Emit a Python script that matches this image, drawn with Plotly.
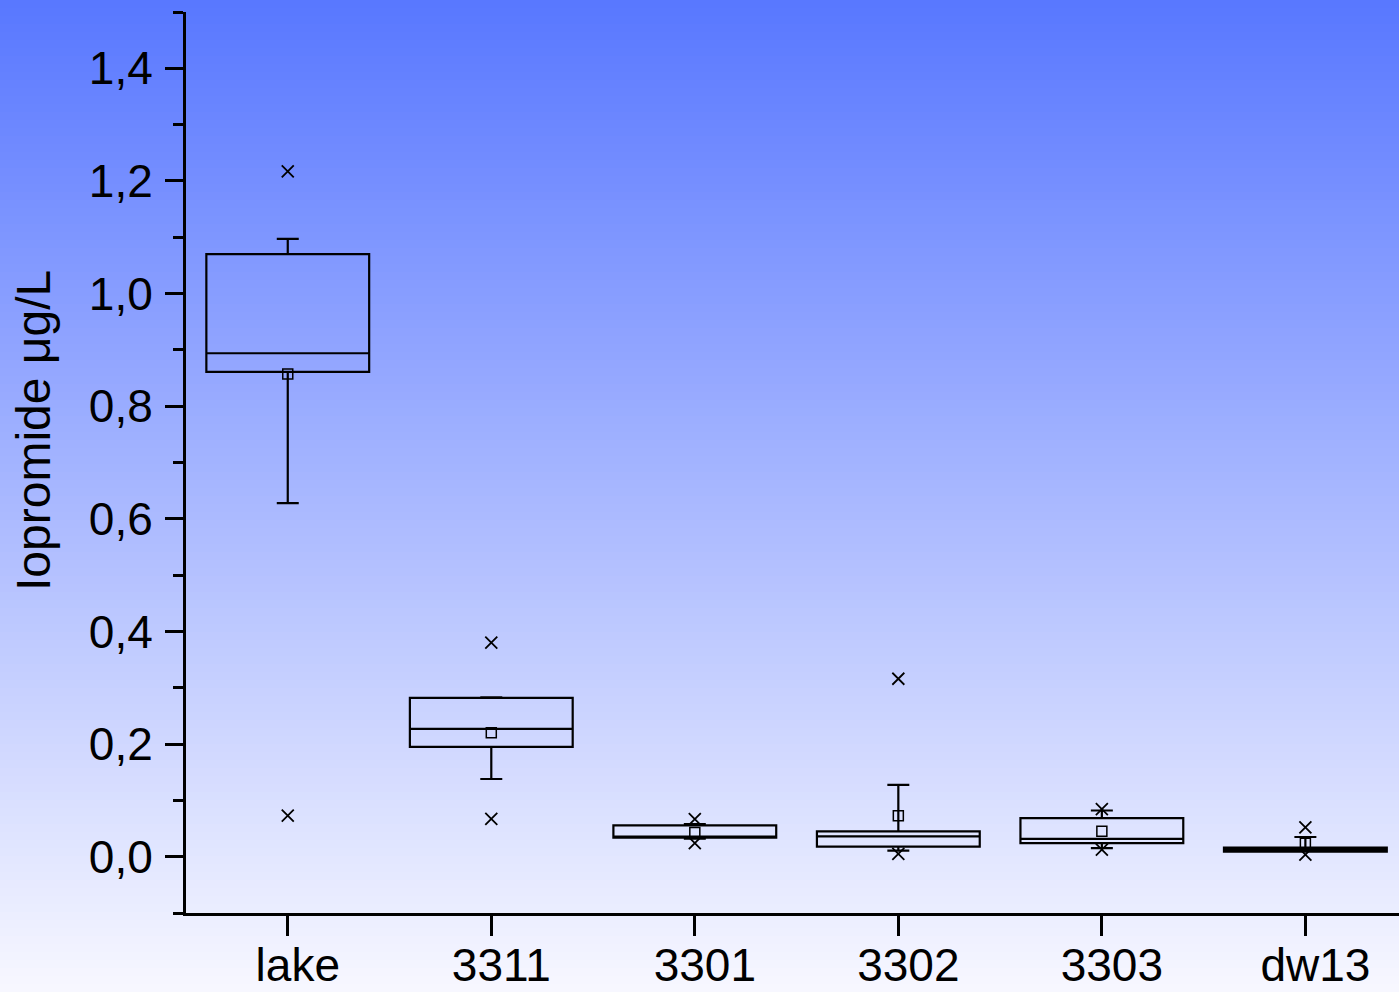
import plotly.graph_objects as go

categories = ["lake", "3311", "3301", "3302", "3303", "dw13"]
q1 = [0.861, 0.195, 0.034, 0.0177, 0.024, 0.0089]
median = [0.894, 0.227, 0.035, 0.036, 0.0318, 0.012]
q3 = [1.070, 0.282, 0.0557, 0.0449, 0.0685, 0.016]
lower_whisker = [0.628, 0.138, 0.032, 0.0106, 0.0153, 0.009]
upper_whisker = [1.097, 0.283, 0.058, 0.1277, 0.082, 0.035]
means = [0.857, 0.220, 0.043, 0.0727, 0.045, 0.024]
minima = [0.073, 0.067, 0.024, 0.005, 0.0124, 0.0035]
maxima = [1.217, 0.380, 0.0667, 0.316, 0.0844, 0.052]
y_ticks = [0.0, 0.2, 0.4, 0.6, 0.8, 1.0, 1.2, 1.4]
y_title = "Iopromide μg/L"

pos = list(range(len(categories)))
FONT = "Arial, Liberation Sans, sans-serif"

fig = go.Figure()
fig.add_trace(go.Box(
    x=pos, q1=q1, median=median, q3=q3,
    lowerfence=lower_whisker, upperfence=upper_whisker,
    width=0.8, whiskerwidth=0.135,
    fillcolor="rgba(0,0,0,0)", line=dict(color="black", width=2.2),
    boxpoints=False, hoverinfo="skip", showlegend=False,
))
fig.add_trace(go.Scatter(
    x=pos, y=means, mode="markers", showlegend=False,
    marker=dict(symbol="square-open", size=10, color="black", line=dict(width=1.5, color="black")),
))
fig.add_trace(go.Scatter(
    x=pos + pos, y=minima + maxima, mode="markers", showlegend=False,
    marker=dict(symbol="x-thin-open", size=12, color="black", line=dict(width=1.8, color="black")),
))

# vertical background gradient
W, H = 1399, 992
ml, mr, mt, mb = 186, 0, 12, 79
pw, ph = W - ml - mr, H - mt - mb
top_c = (88, 119, 255)
bot_c = (248, 248, 255)
n = 124
shapes = []
for i in range(n):
    f0 = i / n
    f1 = (i + 1) / n
    fm = (i + 0.5) / n
    c = tuple(int(round(top_c[k] + (bot_c[k] - top_c[k]) * fm)) for k in range(3))
    y_top_px = f0 * H
    y_bot_px = f1 * H + 1
    shapes.append(dict(
        type="rect", xref="paper", yref="paper", layer="below",
        x0=-ml / pw, x1=1 + mr / pw + 0.01,
        y0=(H - mb - y_bot_px) / ph, y1=(H - mb - y_top_px) / ph,
        fillcolor="rgb(%d,%d,%d)" % c, line=dict(width=0),
    ))

fig.update_layout(
    width=W, height=H, autosize=False,
    margin=dict(l=ml, r=mr, t=mt, b=mb, pad=0),
    paper_bgcolor="white", plot_bgcolor="rgba(0,0,0,0)",
    separators=", ",
    font=dict(family=FONT, size=46, color="black"),
    shapes=shapes,
    showlegend=False,
    annotations=[dict(
        text=y_title, textangle=-90, showarrow=False,
        xref="paper", yref="paper",
        x=(33 - ml) / pw, y=(H - mb - 431) / ph,
        xanchor="center", yanchor="middle",
        font=dict(family=FONT, size=48, color="black"),
    )],
)
fig.update_xaxes(
    range=[-0.5, 5.46], tickvals=pos, ticktext=categories, automargin=False,
    showline=True, linewidth=3, linecolor="black", mirror=False,
    ticks="outside", ticklen=20, tickwidth=3, tickcolor="black",
    showgrid=False, zeroline=False, ticklabelshift=10, ticklabelstandoff=-10,
    tickfont=dict(size=46),
)
fig.update_yaxes(
    range=[-0.1, 1.5], tickvals=y_ticks, tickformat=".1f", automargin=False,
    showline=True, linewidth=3, linecolor="black",
    ticks="outside", ticklen=18, tickwidth=3, tickcolor="black",
    minor=dict(dtick=0.1, tick0=0, ticks="outside", ticklen=10, tickwidth=3, tickcolor="black"),
    showgrid=False, zeroline=False,
    tickfont=dict(size=46), ticklabelstandoff=3,
)
fig.write_html(
    "out.html",
    config={"responsive": False, "displayModeBar": False},
    post_script="document.body.style.margin='0';document.body.style.overflow='hidden';",
)
